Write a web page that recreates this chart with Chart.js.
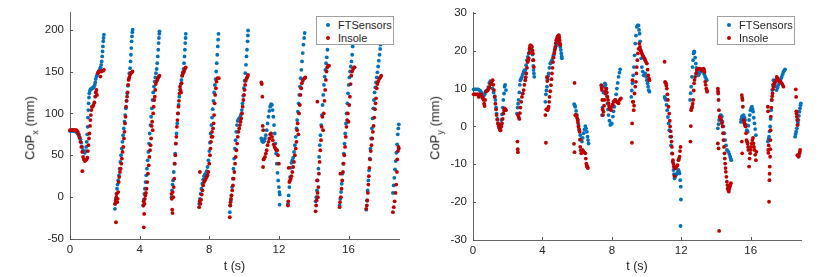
<!DOCTYPE html>
<html lang="en">
<head>
  <meta charset="UTF-8">
  <title>CoP</title>
  <style>
    body { margin: 0; background: #fff; font-family: "Liberation Sans", Arial, sans-serif; }
    #wrap { position: relative; width: 830px; height: 277px; }
    .panel { position: absolute; top: 0; width: 415px; height: 277px; }
    .ylabel {
      position: absolute; font-size: 13px; color: #262626; white-space: nowrap;
      transform: translate(-50%, -50%) rotate(-90deg);
    }
    .ylabel sub { font-size: 9px; }
    .legend {
      position: absolute; width: 76px; height: 27px; background: #fff;
      border: 1px solid #a0a0a0; font-size: 11px; color: #262626;
    }
    .legend div { position: absolute; left: 21px; line-height: 13px; }
    .legend span {
      position: absolute; left: -12px; top: 4px; width: 4px; height: 4px; border-radius: 50%;
    }
  </style>
</head>
<body>
  <div id="wrap">
    <div class="panel" style="left:0"><canvas id="chartX" width="415" height="277"></canvas></div>
    <div class="panel" style="left:415px"><canvas id="chartY" width="415" height="277"></canvas></div>
    <div class="ylabel" style="left:31px; top:128px">CoP<sub>x</sub> (mm)</div>
    <div class="ylabel" style="left:436px; top:128px">CoP<sub>y</sub> (mm)</div>
    <div class="legend" id="legX" style="left:316px; top:16px"></div>
    <div class="legend" id="legY" style="left:717px; top:16px"></div>
  </div>
  <script src="https://cdn.jsdelivr.net/npm/chart.js"></script>
  <script>
    const seriesNames = ['FTSensors', 'Insole'];
    const seriesColors = ['#0072BD', '#C00000'];

    // [t (s), CoP_x (mm)]
    const ftSensorsCopX = [
      [0,79],[0.05,79],[0.1,79],[0.15,79],[0.2,79],[0.25,79],[0.3,79],[0.35,78],[0.4,77],[0.45,76],[0.5,74],[0.55,72],[0.6,69],[0.65,65],[0.7,60],[0.75,56],[0.8,54],[0.85,53],[0.9,55],[0.93,60],[0.96,66],[0.99,75],[1.01,84],[1.03,95],[1.05,104],[1.07,112],[1.09,119],[1.11,124],[1.14,127],[1.18,129],[1.22,129],[1.26,130],[1.3,130],[1.34,131],[1.38,132],[1.42,134],[1.45,137],[1.48,141],[1.52,144],[1.56,146],[1.6,148],[1.64,150],[1.68,151],[1.72,153],[1.76,155],[1.79,158],[1.82,162],[1.85,168],[1.87,174],[1.89,180],[1.91,186],[1.93,190],[1.95,194],
      [2.58,-14],[2.61,-8],[2.64,-2],[2.67,4],[2.7,10],[2.73,15],[2.77,20],[2.81,26],[2.85,34],[2.89,42],[2.93,50],[2.97,58],[3.01,66],[3.05,74],[3.09,82],[3.13,90],[3.17,98],[3.21,106],[3.25,115],[3.29,124],[3.33,133],[3.37,141],[3.41,148],[3.45,154],[3.48,162],[3.5,170],[3.52,178],[3.54,186],[3.56,192],[3.58,197],[3.6,200],
      [4.21,-10],[4.24,-3],[4.27,4],[4.3,10],[4.34,18],[4.38,26],[4.42,34],[4.46,44],[4.5,54],[4.54,64],[4.58,76],[4.62,86],[4.66,96],[4.7,106],[4.74,116],[4.78,125],[4.82,132],[4.86,138],[4.9,143],[4.94,148],[4.98,153],[5.01,160],[5.04,168],[5.07,176],[5.09,184],[5.11,190],[5.13,195],[5.14,198],
      [5.83,0],[5.86,8],[5.89,15],[5.92,20],[5.96,30],[6.0,40],[6.04,52],[6.08,64],[6.12,76],[6.16,88],[6.2,100],[6.24,110],[6.28,120],[6.32,128],[6.36,135],[6.4,140],[6.44,145],[6.48,149],[6.52,153],[6.55,160],[6.58,168],[6.6,176],[6.62,184],[6.64,190],[6.65,195],
      [7.42,-8],[7.46,-2],[7.5,4],[7.55,10],[7.6,16],[7.65,21],[7.7,25],[7.75,27],[7.8,28],[7.85,31],[7.9,36],[7.95,44],[8.0,55],[8.04,65],[8.08,76],[8.12,86],[8.16,95],[8.2,105],[8.24,115],[8.28,125],[8.32,134],[8.36,141],[8.4,150],[8.43,160],[8.46,170],[8.49,180],[8.51,188],[8.53,195],
      [9.18,-18],[9.21,-10],[9.24,-4],[9.27,2],[9.31,12],[9.35,22],[9.39,34],[9.43,46],[9.47,58],[9.51,68],[9.55,78],[9.59,86],[9.63,91],[9.68,93],[9.73,94],[9.78,96],[9.83,99],[9.87,104],[9.91,112],[9.95,121],[9.99,130],[10.03,139],[10.07,148],[10.11,158],[10.14,168],[10.17,176],[10.2,186],[10.22,193],[10.23,199],
      [10.99,70],[11.03,67],[11.07,66],[11.11,66],[11.15,67],[11.2,70],[11.25,74],[11.3,80],[11.35,88],[11.4,96],[11.45,103],[11.5,108],[11.55,111],[11.6,110],[11.64,104],[11.68,96],[11.72,86],[11.76,76],[11.8,64],[11.84,52],[11.88,40],[11.92,29],[11.96,20],[12.0,12],[12.03,6],[12.05,3],[12.04,-9],
      [12.52,-8],[12.56,2],[12.6,12],[12.64,24],[12.68,35],[12.72,41],[12.77,44],[12.82,47],[12.87,54],[12.92,62],[12.97,72],[13.01,82],[13.05,92],[13.09,102],[13.13,112],[13.17,122],[13.21,132],[13.25,142],[13.29,152],[13.33,162],[13.37,172],[13.41,182],[13.45,190],[13.48,196],
      [14.11,-5],[14.15,0],[14.19,8],[14.23,20],[14.27,34],[14.31,48],[14.35,62],[14.39,74],[14.43,86],[14.47,98],[14.51,110],[14.55,122],[14.59,134],[14.63,144],[14.67,152],[14.71,160],[14.75,167],[14.79,176],[14.82,186],[14.84,194],[14.86,200],
      [15.49,-10],[15.53,-2],[15.57,6],[15.61,16],[15.65,28],[15.69,40],[15.73,52],[15.77,64],[15.81,76],[15.85,88],[15.89,100],[15.93,112],[15.97,124],[16.01,134],[16.05,143],[16.09,150],[16.13,156],[16.17,162],[16.21,170],[16.24,180],[16.27,190],[16.29,198],
      [17.02,-15],[17.06,-4],[17.1,8],[17.14,20],[17.18,32],[17.22,46],[17.26,58],[17.3,70],[17.34,82],[17.38,94],[17.42,106],[17.46,116],[17.5,125],[17.54,131],[17.58,137],[17.62,143],[17.66,149],[17.7,156],[17.74,163],[17.78,170],[17.82,177],[17.84,182],
      [18.55,5],[18.59,14],[18.63,23],[18.67,33],[18.71,43],[18.75,53],[18.79,63],[18.83,75],[18.86,82],[18.89,87]
    ];

    const insoleCopX = [
      [0,80],[0.05,80],[0.1,80],[0.15,80],[0.2,80],[0.25,80],[0.3,80],[0.35,80],[0.4,79],[0.45,78],[0.5,75],[0.55,71],[0.6,66],[0.65,60],[0.7,54],[0.71,31],[0.75,48],[0.8,45],[0.85,43],[0.9,44],[0.95,45],[1.0,47],[1.03,55],[1.06,62],[1.09,70],[1.12,76],[1.15,85],[1.17,92],[1.2,98],[1.23,104],[1.26,108],[1.3,108],[1.35,110],[1.4,113],[1.45,120],[1.48,125],[1.52,128],[1.55,122],[1.6,148],[1.65,150],[1.7,150],[1.75,144],[1.8,150],[1.85,151],[1.9,151],[1.95,152],
      [2.58,-8],[2.62,-4],[2.64,-30],[2.66,0],[2.68,4],[2.71,-6],[2.74,-2],[2.77,6],[2.8,18],[2.83,24],[2.87,30],[2.91,34],[2.95,40],[2.98,46],[3.02,54],[3.06,60],[3.1,70],[3.13,78],[3.16,88],[3.19,96],[3.22,108],[3.25,115],[3.28,120],[3.31,125],[3.34,134],[3.37,140],[3.41,143],[3.45,146],[3.5,148],[3.55,149],[3.59,150],
      [4.21,-10],[4.23,-5],[4.24,-36],[4.26,-20],[4.28,-8],[4.3,-2],[4.33,2],[4.36,5],[4.4,10],[4.44,18],[4.48,28],[4.52,38],[4.56,48],[4.6,56],[4.63,62],[4.66,70],[4.69,85],[4.72,90],[4.75,80],[4.78,100],[4.81,108],[4.84,116],[4.87,120],[4.9,128],[4.93,135],[4.97,138],[5.01,140],[5.05,142],[5.1,144],[5.14,145],
      [5.83,4],[5.85,-2],[5.87,-15],[5.89,-19],[5.9,6],[5.93,0],[5.96,12],[5.99,22],[6.02,40],[6.05,50],[6.08,64],[6.11,72],[6.14,84],[6.17,92],[6.2,100],[6.23,108],[6.26,115],[6.29,124],[6.32,132],[6.35,128],[6.38,125],[6.41,136],[6.45,145],[6.5,148],[6.55,150],[6.6,153],[6.65,155],
      [7.42,-12],[7.45,-5],[7.46,30],[7.49,-8],[7.53,-3],[7.57,3],[7.61,8],[7.65,14],[7.7,18],[7.75,20],[7.8,22],[7.85,24],[7.9,26],[7.95,30],[8.0,40],[8.04,50],[8.07,58],[8.1,66],[8.13,72],[8.16,78],[8.19,72],[8.22,82],[8.25,88],[8.28,98],[8.31,112],[8.34,122],[8.38,130],[8.42,138],[8.47,142],[8.55,142],
      [9.18,-24],[9.2,-10],[9.22,-6],[9.25,-2],[9.28,2],[9.32,8],[9.36,14],[9.4,22],[9.44,30],[9.48,40],[9.52,48],[9.56,56],[9.6,64],[9.64,72],[9.68,78],[9.72,82],[9.76,86],[9.8,90],[9.84,94],[9.88,100],[9.92,108],[9.96,116],[10.0,122],[10.03,128],[10.06,134],[10.1,139],[10.15,142],[10.2,144],[10.23,146],
      [10.99,137],[11.02,135],[11.05,120],[11.07,85],[11.1,80],[11.09,36],[11.12,45],[11.15,46],[11.2,48],[11.25,52],[11.3,56],[11.35,62],[11.4,66],[11.45,70],[11.5,75],[11.55,76],[11.6,72],[11.65,68],[11.7,63],[11.75,60],[11.8,58],[11.85,56],[11.9,56],[11.95,50],[12.0,40],
      [12.52,-10],[12.54,-5],[12.56,35],[12.6,18],[12.64,20],[12.68,22],[12.72,25],[12.77,30],[12.82,36],[12.87,42],[12.92,50],[12.97,58],[13.01,66],[13.05,80],[13.08,88],[13.12,75],[13.16,100],[13.2,110],[13.24,122],[13.28,130],[13.32,136],[13.37,139],[13.42,141],[13.48,142],[13.52,143],
      [14.11,-17],[14.14,-10],[14.17,-4],[14.19,20],[14.21,114],[14.22,5],[14.24,0],[14.27,12],[14.3,28],[14.34,42],[14.38,56],[14.42,68],[14.46,84],[14.5,96],[14.54,80],[14.58,100],[14.62,115],[14.66,128],[14.7,140],[14.74,150],[14.78,155],[14.83,157],[14.88,157],
      [15.49,-12],[15.51,-6],[15.53,28],[15.56,0],[15.6,10],[15.64,20],[15.68,30],[15.72,40],[15.76,50],[15.8,60],[15.84,72],[15.88,84],[15.92,92],[15.96,100],[16.0,90],[16.04,110],[16.08,120],[16.12,135],[16.16,145],[16.2,150],[16.26,153],[16.32,155],[16.35,155],
      [17.02,-14],[17.05,-10],[17.08,-4],[17.11,5],[17.14,15],[17.17,25],[17.2,35],[17.24,45],[17.28,55],[17.32,62],[17.36,70],[17.4,78],[17.44,85],[17.48,95],[17.52,105],[17.55,112],[17.58,118],[17.62,130],[17.66,135],[17.7,138],[17.76,141],[17.82,143],[17.88,145],
      [18.55,-18],[18.6,-12],[18.65,-5],[18.7,5],[18.74,15],[18.78,30],[18.8,45],[18.84,55],[18.87,60],[18.89,58]
    ];

    // [t (s), CoP_y (mm)]
    const ftSensorsCopY = [
      [0.04,9.8],[0.1,9.8],[0.15,9.8],[0.23,9.8],[0.3,9.8],[0.37,9.6],[0.42,9.4],[0.47,9.0],[0.52,8.7],[0.57,8.3],[0.61,8.0],[0.67,8.5],[0.72,9.2],[0.78,9.4],[0.83,9.6],[0.88,10.4],[0.94,11.5],[1.0,12.0],[1.06,11.2],[1.12,10.0],[1.19,9.0],[1.25,8.0],[1.29,7.0],[1.33,5.0],[1.36,3.4],[1.4,2.0],[1.44,0.8],[1.48,0],[1.52,-0.3],[1.57,-0.5],[1.6,0.5],[1.63,1.7],[1.67,3.2],[1.71,5.0],[1.75,7.0],[1.79,8.7],[1.82,10.5],[1.85,11.0],[1.9,9.6],
      [2.53,3.4],[2.57,5],[2.6,6],[2.63,7],[2.67,9],[2.7,11],[2.73,12.2],[2.78,12.7],[2.82,13.1],[2.87,13.8],[2.92,14.4],[2.96,14.8],[3.01,14.9],[3.06,16.2],[3.11,17.5],[3.16,18.4],[3.21,19.3],[3.26,20.2],[3.3,21],[3.35,20.6],[3.4,20.1],[3.43,19],[3.45,17.5],[3.47,16],[3.49,14.9],[3.51,14],[3.53,13.1],
      [4.17,6.5],[4.2,8.5],[4.23,9.5],[4.26,10.5],[4.3,12.5],[4.33,13.3],[4.36,14],[4.4,15.5],[4.45,16.6],[4.5,17],[4.55,17.5],[4.6,18.2],[4.64,18.8],[4.69,19.7],[4.74,20.6],[4.79,21.3],[4.84,21.9],[4.88,22.1],[4.93,22.3],[4.98,21.6],[5.03,21],[5.06,20.2],[5.09,19.3],[5.11,18.5],[5.12,18],
      [5.83,5.9],[5.86,5.6],[5.89,5.2],[5.94,4.1],[5.99,3],[6.04,1.7],[6.08,0.4],[6.13,-1],[6.18,-2.3],[6.23,-3.3],[6.28,-4],[6.32,-3],[6.37,-1.8],[6.42,-0.8],[6.47,0.1],[6.51,-0.5],[6.56,-1.4],[6.6,-2.7],[6.63,-3.6],[6.66,-4.5],
      [7.43,3],[7.46,5],[7.49,7],[7.52,9],[7.56,10.5],[7.6,11.4],[7.64,11],[7.68,10],[7.72,8],[7.75,6.1],[7.78,4.5],[7.81,3],[7.86,1.5],[7.91,0.4],[7.96,0.6],[8.0,0.8],[8.06,2.6],[8.1,4],[8.14,5.2],[8.2,7],[8.25,8.5],[8.29,10],[8.34,11.5],[8.39,13.1],[8.44,14.2],[8.48,15.1],
      [9.12,7.8],[9.15,9.5],[9.19,11.4],[9.23,13.5],[9.27,15.7],[9.31,18.8],[9.35,21.9],[9.39,24],[9.44,26.3],[9.49,26.7],[9.54,26.7],[9.57,25.5],[9.6,24.5],[9.63,22.5],[9.65,20.2],[9.69,18],[9.73,15.7],[9.78,14.5],[9.83,13.5],[9.88,13.6],[9.92,14],[9.98,13.1],[10.02,12.2],[10.06,11.4],[10.09,10.5],[10.12,9.6],[10.17,9.2],
      [11.04,7.8],[11.07,7.4],[11.11,7],[11.15,5.7],[11.19,4.3],[11.23,2.5],[11.27,0.8],[11.31,-1],[11.36,-2.7],[11.41,-5],[11.46,-7.1],[11.5,-9.3],[11.55,-11.5],[11.58,-12.6],[11.61,-13.7],[11.65,-13.2],[11.69,-12.8],[11.73,-12.6],[11.77,-12.4],[11.81,-12],[11.84,-11.5],[11.87,-12],[11.9,-12.4],[11.94,-14.2],[11.97,-15.9],[11.98,-19.3],[11.96,-26.3],
      [12.51,7],[12.54,8.8],[12.57,10.5],[12.61,13.1],[12.65,15.7],[12.68,17.5],[12.71,19.3],[12.74,19.8],[12.76,19.7],[12.8,18.2],[12.84,16.6],[12.87,15.5],[12.9,14.4],[12.95,13.9],[12.99,13.5],[13.04,14],[13.09,14.4],[13.14,14.7],[13.19,14.9],[13.24,14.6],[13.28,14.4],[13.33,13.8],[13.38,13.1],[13.43,12.6],[13.47,12.2],
      [14.11,-0.5],[14.15,0.6],[14.18,1.7],[14.22,2.4],[14.26,3],[14.3,2.9],[14.34,2.6],[14.38,1.3],[14.43,0],[14.48,-1.8],[14.53,-3.6],[14.58,-5],[14.63,-6.2],[14.68,-6.5],[14.72,-6.7],[14.77,-7.3],[14.82,-8],[14.85,-8.5],[14.88,-8.9],
      [15.43,1.2],[15.46,1.9],[15.49,2.6],[15.54,2.8],[15.59,3],[15.64,2.4],[15.68,1.7],[15.73,0.4],[15.78,-1],[15.83,-1.4],[15.87,0.2],[15.91,1.7],[15.95,3],[15.99,4.3],[16.03,4.9],[16.07,5.2],[16.11,4.6],[16.14,3.9],[16.18,2.3],[16.22,0.8],[16.26,-0.7],[16.3,-2.3],
      [16.99,-4],[17.03,-3.3],[17.06,-2.7],[17.09,-1.3],[17.12,0],[17.15,2],[17.18,4.3],[17.21,7],[17.24,9.6],[17.28,11],[17.31,12.2],[17.36,12],[17.41,11.8],[17.46,10.6],[17.5,9.6],[17.55,10.3],[17.6,11],[17.65,11.6],[17.7,12.2],[17.75,12.7],[17.79,13.1],[17.84,13.8],[17.89,14.4],[17.94,14.8],[17.98,15.1],
      [18.56,-2.7],[18.59,-2],[18.62,-1.4],[18.66,-0.5],[18.69,0.4],[18.72,1],[18.75,1.7],[18.78,2.8],[18.81,3.9],[18.84,4.8],[18.87,5.6],[18.89,6.1]
    ];

    const insoleCopY = [
      [0.04,8.5],[0.1,8.5],[0.15,8.5],[0.23,8.5],[0.28,8.5],[0.33,7.8],[0.38,8.5],[0.42,8.3],[0.47,8.5],[0.52,7.8],[0.57,7.4],[0.61,7],[0.64,6],[0.67,5.4],[0.7,7],[0.75,9.2],[0.8,9.4],[0.86,9.6],[0.9,10],[0.94,10.3],[1.0,11.2],[1.06,11.8],[1.1,12],[1.13,12.2],[1.17,11],[1.21,9.6],[1.25,7.8],[1.29,6],[1.33,4.5],[1.36,3],[1.4,1.8],[1.44,0.8],[1.48,0.2],[1.52,-0.5],[1.56,-1],[1.59,-1],[1.63,0],[1.67,0.8],[1.71,2],[1.75,3.4],[1.79,4.2],[1.82,4.8],[1.86,4.5],[1.9,4.3],
      [2.56,-4],[2.58,-6],[2.59,-6.8],[2.59,3],[2.63,2.5],[2.67,2],[2.7,3.5],[2.73,5],[2.78,6.5],[2.82,7.8],[2.87,8.7],[2.92,9.6],[2.96,11],[3.01,12.2],[3.04,13],[3.07,14],[3.11,15.5],[3.15,17],[3.18,17.5],[3.21,18],[3.24,19.5],[3.26,20.6],[3.29,21.3],[3.32,21.5],[3.36,21.2],[3.4,21],[3.43,20],[3.45,19.3],[3.48,17.5],[3.51,15.7],
      [4.17,3],[4.2,-4.3],[4.22,4.5],[4.26,13],[4.28,12],[4.3,4.3],[4.33,4.8],[4.36,5.2],[4.39,6.5],[4.41,7.8],[4.45,9.3],[4.49,10.9],[4.52,12.5],[4.55,14],[4.58,15.5],[4.61,17],[4.65,18.2],[4.68,19.3],[4.71,20.2],[4.74,21],[4.77,22],[4.8,22.8],[4.84,23.3],[4.88,23.8],[4.92,24],[4.95,24.1],[4.97,23.5],[4.99,22.8],[5.01,22],[5.03,21.5],
      [5.85,11.5],[5.82,-4.6],[5.85,-6.8],[5.89,3],[5.92,3],[5.95,3],[5.99,2.3],[6.03,1.7],[6.05,1],[6.08,0],[6.11,-0.7],[6.14,-1.4],[6.16,-3.5],[6.18,-5.4],[6.21,-6.3],[6.24,-7.1],[6.28,-6.7],[6.31,-6.2],[6.34,-6.5],[6.37,-6.7],[6.42,-6.9],[6.47,-7.1],[6.5,-8.5],[6.53,-9.8],[6.56,-10.3],[6.58,-10.6],[6.6,-10.8],[6.62,-11],
      [7.39,10.9],[7.41,10.2],[7.43,9.6],[7.45,7],[7.47,4.5],[7.49,3],[7.52,3.9],[7.55,5.5],[7.58,7],[7.62,8.7],[7.65,9.4],[7.68,10],[7.71,9],[7.75,7.8],[7.78,7],[7.81,6.1],[7.84,5.4],[7.87,4.8],[7.91,4.5],[7.95,4.3],[8.0,5.2],[8.05,5.8],[8.1,6.5],[8.15,6.8],[8.2,7],[8.25,6.7],[8.29,6.5],[8.34,6.3],[8.39,6.1],[8.45,7],[8.52,7.4],
      [9.16,-4.3],[9.17,0.8],[9.19,12.2],[9.21,6.5],[9.23,6.5],[9.26,4.3],[9.28,5.5],[9.31,8.7],[9.35,10.5],[9.39,11.8],[9.42,14],[9.44,15.7],[9.47,17.5],[9.5,19.3],[9.54,20.5],[9.58,21.9],[9.62,21],[9.65,20.2],[9.69,19.8],[9.73,19.3],[9.78,18.8],[9.83,18.4],[9.88,18],[9.92,17.5],[9.97,17],[10.02,16.6],[10.06,15],[10.1,13.5],[10.14,12.7],[10.17,12.2],
      [11.04,17.1],[11.07,11.8],[11.09,11.6],[11.11,11.4],[11.14,10.8],[11.17,10],[11.2,8.5],[11.23,7],[11.27,5.2],[11.31,3.4],[11.34,1.5],[11.36,0],[11.39,-1.3],[11.42,-2.7],[11.44,-4],[11.46,-5.4],[11.49,-7.2],[11.52,-8.9],[11.55,-9.8],[11.57,-10.6],[11.61,-13.1],[11.63,-11],[11.65,-11.1],[11.68,-10.9],[11.71,-10.6],[11.75,-10.4],[11.79,-10.2],[11.84,-8.9],[11.87,-8.5],[11.9,-8],[11.93,-6.5],[11.96,-5.4],
      [12.53,-4],[12.55,0.1],[12.57,4.3],[12.6,4.8],[12.63,5.2],[12.66,6],[12.69,7],[12.72,9.5],[12.74,11.4],[12.77,12.3],[12.8,13.1],[12.85,14],[12.9,14.9],[12.95,15.1],[12.99,15.3],[13.04,15.3],[13.09,15.3],[13.14,15.1],[13.19,14.9],[13.24,15.1],[13.28,15.3],[13.31,15],[13.34,14.4],[13.38,11.8],[13.41,11],[13.44,10],[13.47,9.6],[13.49,9.2],
      [14.11,10],[14.12,9.3],[14.13,8.7],[14.15,7],[14.17,4.3],[14.11,-4.5],[14.15,-5.8],[14.18,-27.6],[14.22,2.6],[14.26,2.2],[14.3,1.7],[14.34,0.9],[14.38,0],[14.41,-1.8],[14.43,-3.6],[14.46,-5.4],[14.49,-7.1],[14.51,-8.5],[14.53,-9.8],[14.55,-11],[14.57,-12],[14.6,-13.3],[14.63,-14.6],[14.66,-15.5],[14.68,-16.4],[14.71,-16.8],[14.74,-17.2],[14.77,-16.5],[14.8,-15.9],[14.83,-15.4],[14.86,-15],
      [15.49,8.3],[15.51,7.6],[15.53,7],[15.55,5.2],[15.49,-4],[15.51,-7.1],[15.59,1.7],[15.62,1.2],[15.64,0.8],[15.67,0.4],[15.7,0],[15.73,-1.8],[15.76,-3.6],[15.79,-4],[15.82,-4.5],[15.85,-5.4],[15.87,-6.2],[15.91,-10.6],[15.94,-8.5],[15.97,-7.1],[16.0,-6.2],[16.03,-5.4],[16.06,-4.5],[16.1,-3.6],[16.13,-3],[16.16,-4.5],[16.19,-5.4],[16.22,-6.2],[16.26,-7.5],[16.3,-8.9],[16.33,-6.7],
      [16.99,5.2],[17.0,4],[17.01,-6.2],[17.02,-7],[17.04,-5],[17.06,-19.9],[17.08,-14.2],[17.09,-12.5],[17.1,-10.6],[17.12,-8],[17.13,-6],[17.14,-3.6],[17.15,-1],[17.16,2.6],[17.19,5],[17.22,7],[17.24,8],[17.26,8.7],[17.29,9.8],[17.31,10.5],[17.34,11],[17.37,11.4],[17.41,11.8],[17.45,12.2],[17.5,13.1],[17.55,12.7],[17.6,12.2],[17.65,12],[17.7,11.8],[17.75,11.6],[17.79,11.4],[17.84,11],[17.89,10.5],
      [18.6,9.8],[18.62,7.8],[18.63,4],[18.64,3.4],[18.66,2.6],[18.68,1.7],[18.71,0.4],[18.69,-7.6],[18.75,-8],[18.78,-7.8],[18.81,-7.1],[18.83,-6.7],[18.85,-6.2]
    ];

    const tMax = 18.9;

    // MATLAB-style inward tick marks
    const inwardTicks = {
      id: 'inwardTicks',
      afterDatasetsDraw(chart) {
        const { ctx, chartArea, scales } = chart;
        ctx.save();
        ctx.strokeStyle = '#555';
        ctx.lineWidth = 1;
        ctx.beginPath();
        scales.x.ticks.forEach(t => {
          const px = Math.round(scales.x.getPixelForValue(t.value)) + 0.5;
          ctx.moveTo(px, chartArea.bottom);
          ctx.lineTo(px, chartArea.bottom - 3);
        });
        scales.y.ticks.forEach(t => {
          const py = Math.round(scales.y.getPixelForValue(t.value)) + 0.5;
          ctx.moveTo(chartArea.left, py);
          ctx.lineTo(chartArea.left + 3, py);
        });
        ctx.stroke();
        ctx.restore();
      }
    };

    const toPoints = arr => arr.map(p => ({ x: p[0], y: p[1] }));

    const makeChart = (id, ftData, insoleData, yMin, yMax, yStep, yWidth, xHeight, pad) => {
      return new Chart(document.getElementById(id), {
        type: 'scatter',
        data: {
          datasets: [
            { label: seriesNames[1], data: toPoints(insoleData), backgroundColor: seriesColors[1], pointRadius: 1.9, borderWidth: 0, order: 1, clip: false },
            { label: seriesNames[0], data: toPoints(ftData), backgroundColor: seriesColors[0], pointRadius: 1.9, borderWidth: 0, order: 2, clip: false }
          ]
        },
        plugins: [inwardTicks],
        options: {
          responsive: false,
          animation: false,
          layout: { padding: pad },
          plugins: { legend: { display: false }, tooltip: { enabled: false } },
          scales: {
            x: {
              type: 'linear', min: 0, max: tMax,
              grid: { drawOnChartArea: false, drawTicks: false },
              border: { color: '#666', width: 1 },
              ticks: { stepSize: 4, includeBounds: false, padding: 4, color: '#262626', font: { family: 'Liberation Sans', size: 11.5 } },
              title: { display: true, text: 't (s)', color: '#262626', font: { family: 'Liberation Sans', size: 12.5 }, padding: { top: 0, bottom: 3 } },
              afterFit: s => { s.height = xHeight; }
            },
            y: {
              min: yMin, max: yMax,
              grid: { drawOnChartArea: false, drawTicks: false },
              border: { color: '#666', width: 1 },
              ticks: { stepSize: yStep, includeBounds: false, padding: 6, color: '#262626', font: { family: 'Liberation Sans', size: 11.5 } },
              afterFit: s => { s.width = yWidth; }
            }
          }
        }
      });
    };

    makeChart('chartX', ftSensorsCopX, insoleCopX, -50, 220, 50, 70, 38, { left: 0, right: 16, top: 11.5, bottom: 0 });
    makeChart('chartY', ftSensorsCopY, insoleCopY, -30, 30, 10, 58, 37, { left: 0, right: 29, top: 12.5, bottom: 0 });

    const buildLegend = id => {
      const box = document.getElementById(id);
      seriesNames.forEach((name, i) => {
        const row = document.createElement('div');
        row.style.top = (i === 0 ? 2 : 15) + 'px';
        row.textContent = name;
        const dot = document.createElement('span');
        dot.style.background = seriesColors[i];
        row.appendChild(dot);
        box.appendChild(row);
      });
    };
    buildLegend('legX');
    buildLegend('legY');
  </script>
</body>
</html>
